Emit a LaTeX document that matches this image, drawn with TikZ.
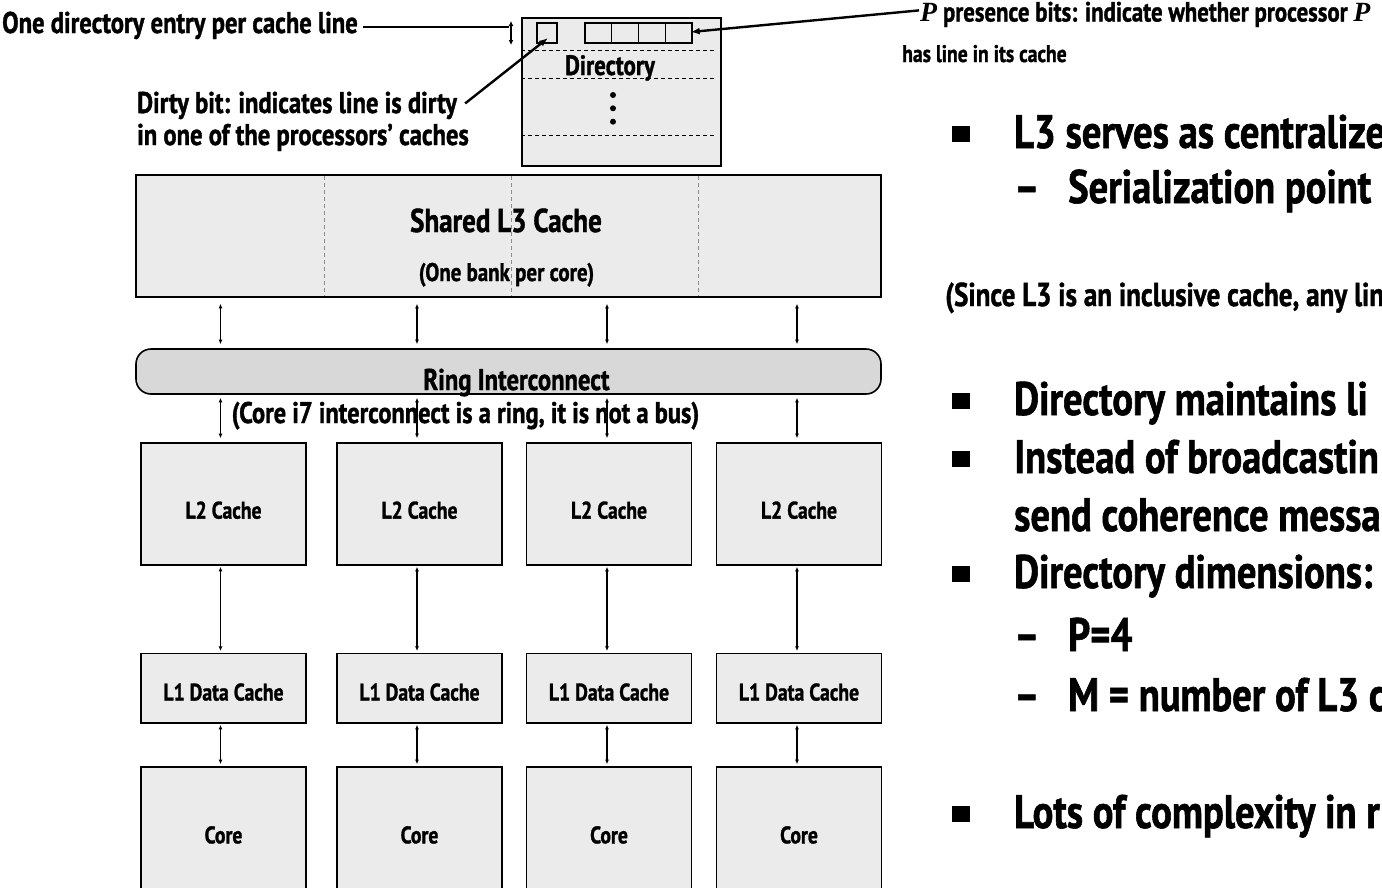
\documentclass[tikz,border=0pt]{standalone}
\usepackage{fontspec}
\setmainfont{PT Sans}[FakeStretch=0.82,FakeBold=1.2]
\newfontfamily\pserif{Liberation Serif}
\usetikzlibrary{arrows.meta,calc}
\newcommand\myfs[1]{\fontsize{#1}{#1}\selectfont}
\definecolor{boxgray}{RGB}{235,235,235}
\definecolor{ringgray}{RGB}{216,216,216}
\definecolor{bankgray}{RGB}{140,140,140}

\begin{document}
\begin{tikzpicture}[x=1pt,y=-1pt,
  box/.style={draw=black, line width=1.6pt, fill=boxgray, minimum width=165pt,
    inner sep=0pt, text depth=0pt, font=\bfseries\myfs{24}},
  ringbox/.style={draw=black, line width=1.6pt, fill=ringgray, rounded corners=15pt, inner sep=0pt},
  txt/.style={inner sep=0pt, font=\bfseries\myfs{#1}},
  txt/.default=30,
  bitcell/.style={draw=black, line width=1.4pt, inner sep=0pt},
  dirdash/.style={line width=1.3pt, dash pattern=on 4pt off 3pt},
  bankdiv/.style={draw=bankgray, line width=1pt, dash pattern=on 4pt off 3pt},
  conn/.style={line width=1.1pt, >={Latex[length=4.5pt,width=4pt]}, <->},
  pointer/.style={line width=2.4pt, -{Latex[length=9pt,width=7pt]}},
  rowarrow/.style={line width=1.5pt, >={Latex[length=5pt,width=5pt]}, <->},
  bullet/.style={fill=black},
]
\useasboundingbox (0,0) rectangle (1382,887);
\clip (0,0) rectangle (1382,887);

% ---------------- directory ----------------
\node[box, minimum width=199pt, minimum height=148pt] (dir) at (621.5,92) {};
\foreach \dy in {33,61.3,118}
  \draw[dirdash] ($(dir.north west)+(0,\dy)$) -- ++(194,0);
\node[txt=28, anchor=base] (dirlbl) at (610,75) {Directory};
\foreach \dy in {95,108.3,121.7}
  \fill (613,\dy) circle[radius=3];
\node[bitcell, minimum width=20pt, minimum height=20pt] (dbit) at (547,33) {};
\node[bitcell, minimum width=107pt, minimum height=20pt] (pbits) at (638.5,33) {};
\foreach \k in {1,2,3}
  \draw[line width=1.4pt] ($(pbits.north west)!\k/4!(pbits.north east)$) -- ($(pbits.south west)!\k/4!(pbits.south east)$);

% row height marker and its label
\coordinate (rowtop) at (511,21);
\coordinate (rowbot) at (511,45);
\coordinate (entryend) at (509,27);
\draw[rowarrow] (rowtop) -- (rowbot);
\node[txt, anchor=base west] (entry) at (2,33) {One directory entry per cache line};
\draw[line width=1.5pt] ($(entry.east |- entryend)+(5,0)$) -- (entryend);

% dirty bit label
\node[txt, anchor=base west] (dirty1) at (137,113) {Dirty bit: indicates line is dirty};
\node[txt, anchor=base west] (dirty2) at (137,145) {in one of the processors’ caches};
\draw[pointer] ($(dirty1.east)+(8,-2)$) -- ($(dbit.center)+(1,5)$);

% presence bits label
\node[txt=27.8, anchor=base west] (pres1) at (920,21.5)
  {{\pserif\bfseries\itshape P} presence bits: indicate whether processor {\pserif\bfseries\itshape P}};
\node[txt=24, anchor=base west] (pres2) at (902,62) {has line in its cache};
\draw[pointer] ($(pres1.west)+(-1,-4)$) -- ($(pbits.east)+(-2,-1)$);

% ---------------- shared L3 ----------------
\node[box, minimum width=745pt, minimum height=122pt] (l3) at (508.5,236) {};
\foreach \bx in {324.5,511.5,698.5}
  \draw[bankdiv] (\bx,176) -- (\bx,296);
\node[txt=33, anchor=base] (l3name) at (506,232) {Shared L3 Cache};
\node[txt=25.5, anchor=base] (l3bank) at (506.5,281) {(One bank per core)};

% ---------------- ring ----------------
\node[ringbox, minimum width=745pt, minimum height=45pt] (ring) at (508.5,371.5) {};
\node[txt=30, anchor=base] (ringname) at (516.5,390) {Ring Interconnect};
\node[txt=29.8, anchor=base] (ringnote) at (465.5,423) {(Core i7 interconnect is a ring, it is not a bus)};

% ---------------- per-core hierarchy ----------------
\foreach \i/\cx/\ax in {1/223.5/220.5,2/419.5/417,3/609/607,4/799/797}{
  \node[box, minimum height=122.3pt, text height=29.5pt] (l2\i) at (\cx,503.85) {L2 Cache};
  \node[box, minimum height=69.4pt, text height=25pt] (l1\i) at (\cx,688) {L1 Data Cache};
  \node[box, minimum height=136.3pt, text height=17pt] (core\i) at (\cx,834.85) {Core};
  \coordinate (ax\i) at (\ax,0);
  \draw[conn, shorten <=6pt, shorten >=4pt] (l3.south -| ax\i) -- (ring.north -| ax\i);
  \draw[conn, shorten <=3pt, shorten >=3.7pt] (ring.south -| ax\i) -- (l2\i.north -| ax\i);
  \draw[conn, shorten <=1pt, shorten >=1.6pt] (l2\i.south -| ax\i) -- (l1\i.north -| ax\i);
  \draw[conn, shorten <=1.3pt, shorten >=1.7pt] (l1\i.south -| ax\i) -- (core\i.north -| ax\i);
}

% ---------------- bullet list ----------------
\foreach \by in {148,415,473,588,828}
  \fill[bullet] (952,\by-22) rectangle (970,\by-6);
\node[txt=47, anchor=base west] (b1) at (1014,148) {L3 serves as centralize};
\node[txt=47, anchor=base west] (b1d) at (1014,203) {–};
\node[txt=47, anchor=base west] (b1s) at (1068,203) {Serialization point};
\node[txt=33, anchor=base west] (incl) at (945,306) {(Since L3 is an inclusive cache, any lin};
\node[txt=47, anchor=base west] (b2) at (1014,415) {Directory maintains li};
\node[txt=47, anchor=base west] (b3) at (1014,473) {Instead of broadcastin};
\node[txt=47, anchor=base west] (b3b) at (1014,531) {send coherence messa};
\node[txt=47, anchor=base west] (b4) at (1014,588) {Directory dimensions:};
\node[txt=47, anchor=base west] (b4d1) at (1014,651) {–};
\node[txt=47, anchor=base west] (b4s1) at (1068,651) {P=4};
\node[txt=47, anchor=base west] (b4d2) at (1014,711) {–};
\node[txt=47, anchor=base west] (b4s2) at (1068,711) {M = number of L3 c};
\node[txt=47, anchor=base west] (b5) at (1014,828) {Lots of complexity in r};
\end{tikzpicture}
\end{document}
